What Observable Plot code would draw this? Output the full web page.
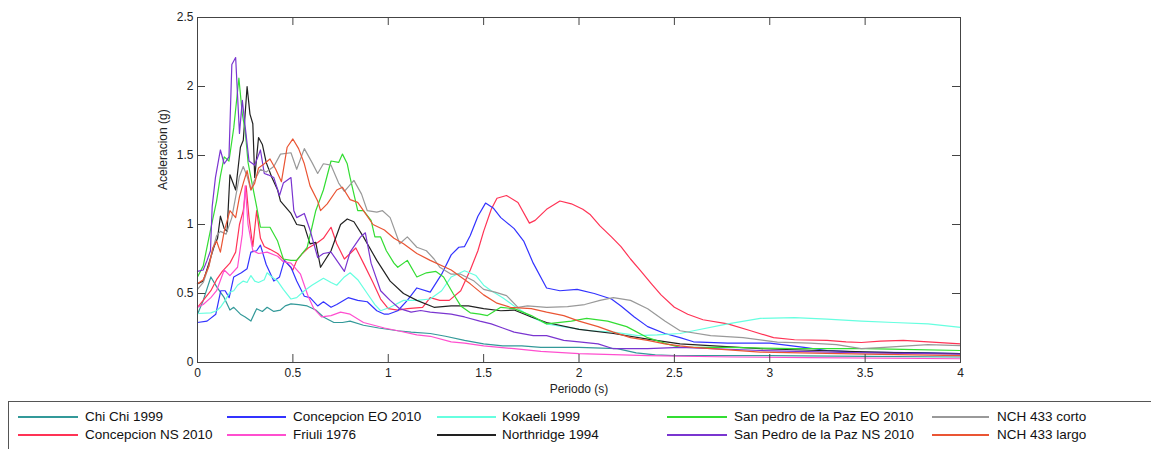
<!DOCTYPE html>
<html>
<head>
<meta charset="utf-8">
<script src="https://cdn.jsdelivr.net/npm/d3@7"></script>
<script src="https://cdn.jsdelivr.net/npm/@observablehq/plot@0.6"></script>
<style>
  html, body { margin: 0; padding: 0; background: #fff; overflow: hidden; }
  body { width: 1151px; height: 449px; position: relative; font-family: "Liberation Sans", Arial, sans-serif; }
  #chart { position: absolute; left: 0; top: 0; }
  #legendBox { position: absolute; left: 8px; top: 401px; width: 1170px; height: 80px; border: 1px solid #555; box-sizing: border-box; }
  .sw { position: absolute; height: 2px; }
  .lt { position: absolute; font-size: 13.5px; line-height: 18px; color: #111; white-space: nowrap; }
</style>
</head>
<body>
<div id="chart"></div>
<div id="legendBox"></div>
<script>
// Response spectra: period T (s) against spectral acceleration Sa (g)
const xTicks = [0, 0.5, 1, 1.5, 2, 2.5, 3, 3.5, 4];
const yTicks = [0, 0.5, 1, 1.5, 2, 2.5];
const xLabel = "Periodo (s)";
const yLabel = "Aceleracion (g)";

const chiChi = [[0,0.35],[0.03,0.45],[0.07,0.62],[0.10,0.55],[0.14,0.47],[0.17,0.38],[0.19,0.40],[0.225,0.35],[0.25,0.33],[0.28,0.30],[0.31,0.39],[0.34,0.37],[0.365,0.40],[0.40,0.37],[0.435,0.38],[0.46,0.41],[0.49,0.425],[0.53,0.42],[0.575,0.41],[0.62,0.38],[0.66,0.33],[0.715,0.29],[0.76,0.29],[0.80,0.30],[0.87,0.27],[0.95,0.25],[1.05,0.23],[1.12,0.22],[1.22,0.21],[1.30,0.19],[1.40,0.16],[1.50,0.135],[1.60,0.12],[1.70,0.12],[1.80,0.11],[2.00,0.11],[2.20,0.10],[2.30,0.07],[2.40,0.055],[2.50,0.05],[3.00,0.05],[3.50,0.045],[4.00,0.04]];

const concepcionNS = [[0,0.40],[0.03,0.45],[0.07,0.52],[0.10,0.60],[0.13,0.66],[0.17,0.72],[0.20,0.80],[0.22,1.00],[0.24,1.10],[0.255,1.28],[0.27,1.05],[0.29,0.84],[0.31,1.10],[0.33,0.90],[0.35,0.84],[0.38,0.82],[0.42,0.79],[0.47,0.72],[0.50,0.67],[0.52,0.74],[0.55,0.79],[0.58,0.83],[0.63,0.87],[0.66,0.90],[0.70,0.98],[0.73,0.86],[0.77,0.75],[0.80,0.79],[0.83,0.83],[0.87,0.72],[0.92,0.58],[0.96,0.46],[1.00,0.39],[1.05,0.38],[1.10,0.39],[1.18,0.40],[1.22,0.47],[1.27,0.45],[1.32,0.45],[1.38,0.52],[1.43,0.67],[1.47,0.81],[1.50,0.95],[1.54,1.11],[1.57,1.19],[1.62,1.21],[1.68,1.16],[1.74,1.01],[1.77,1.03],[1.83,1.11],[1.90,1.17],[1.96,1.15],[2.02,1.11],[2.06,1.07],[2.11,0.99],[2.17,0.91],[2.22,0.84],[2.27,0.75],[2.32,0.67],[2.38,0.57],[2.43,0.49],[2.50,0.40],[2.57,0.35],[2.65,0.31],[2.78,0.28],[2.90,0.23],[3.02,0.18],[3.13,0.165],[3.30,0.16],[3.40,0.15],[3.48,0.145],[3.58,0.155],[3.70,0.16],[3.83,0.15],[4.00,0.135]];

const concepcionEO = [[0,0.29],[0.05,0.30],[0.096,0.35],[0.122,0.52],[0.145,0.52],[0.166,0.47],[0.19,0.62],[0.23,0.65],[0.26,0.68],[0.28,0.80],[0.31,0.81],[0.33,0.85],[0.36,0.71],[0.40,0.59],[0.43,0.62],[0.455,0.74],[0.49,0.69],[0.52,0.59],[0.56,0.48],[0.59,0.47],[0.63,0.41],[0.66,0.44],[0.70,0.40],[0.73,0.42],[0.79,0.47],[0.84,0.45],[0.89,0.44],[0.94,0.375],[0.98,0.35],[1.00,0.35],[1.05,0.375],[1.10,0.45],[1.15,0.54],[1.22,0.51],[1.28,0.64],[1.33,0.78],[1.37,0.835],[1.40,0.84],[1.43,0.92],[1.47,1.06],[1.51,1.155],[1.55,1.12],[1.59,1.05],[1.66,0.97],[1.71,0.88],[1.76,0.72],[1.83,0.54],[1.90,0.52],[1.99,0.53],[2.08,0.50],[2.17,0.46],[2.22,0.41],[2.29,0.33],[2.36,0.26],[2.45,0.21],[2.53,0.18],[2.60,0.15],[2.78,0.14],[3.00,0.14],[3.18,0.11],[3.30,0.087],[3.48,0.075],[3.83,0.07],[4.00,0.065]];

const friuli = [[0,0.40],[0.03,0.42],[0.07,0.47],[0.10,0.52],[0.14,0.67],[0.17,0.63],[0.21,0.69],[0.235,0.93],[0.25,1.28],[0.265,1.00],[0.29,0.81],[0.32,0.79],[0.365,0.80],[0.42,0.77],[0.45,0.73],[0.49,0.72],[0.54,0.64],[0.58,0.48],[0.61,0.39],[0.65,0.33],[0.70,0.34],[0.75,0.365],[0.80,0.35],[0.87,0.29],[0.98,0.25],[1.05,0.23],[1.15,0.20],[1.22,0.19],[1.33,0.15],[1.40,0.14],[1.50,0.12],[1.66,0.10],[1.80,0.08],[2.00,0.065],[2.36,0.05],[2.80,0.04],[3.20,0.035],[4.00,0.027]];

const kokaeli = [[0,0.355],[0.07,0.36],[0.10,0.375],[0.12,0.40],[0.145,0.45],[0.17,0.51],[0.19,0.52],[0.21,0.56],[0.24,0.59],[0.26,0.58],[0.28,0.63],[0.30,0.59],[0.32,0.58],[0.35,0.60],[0.365,0.65],[0.39,0.62],[0.42,0.59],[0.45,0.53],[0.49,0.46],[0.52,0.47],[0.56,0.52],[0.60,0.56],[0.66,0.61],[0.70,0.58],[0.73,0.56],[0.77,0.62],[0.80,0.65],[0.84,0.60],[0.89,0.50],[0.93,0.42],[0.96,0.375],[1.01,0.40],[1.08,0.45],[1.15,0.45],[1.22,0.46],[1.28,0.52],[1.33,0.62],[1.40,0.665],[1.46,0.63],[1.50,0.56],[1.54,0.52],[1.60,0.47],[1.66,0.41],[1.75,0.33],[1.83,0.28],[1.94,0.255],[2.06,0.23],[2.18,0.22],[2.31,0.195],[2.41,0.20],[2.53,0.21],[2.60,0.23],[2.78,0.28],[2.95,0.32],[3.13,0.325],[3.30,0.315],[3.48,0.30],[3.65,0.29],[3.83,0.28],[4.00,0.255]];

const northridge = [[0,0.57],[0.03,0.59],[0.06,0.72],[0.087,0.84],[0.105,0.90],[0.12,1.06],[0.14,0.97],[0.155,0.95],[0.17,1.36],[0.20,1.25],[0.225,1.56],[0.24,1.61],[0.26,2.00],[0.275,1.80],[0.29,1.73],[0.30,1.34],[0.32,1.63],[0.34,1.58],[0.36,1.45],[0.39,1.34],[0.42,1.25],[0.435,1.17],[0.49,1.08],[0.52,1.00],[0.56,0.99],[0.59,0.86],[0.62,0.87],[0.645,0.69],[0.70,0.81],[0.75,1.00],[0.785,1.04],[0.82,1.02],[0.87,0.91],[0.94,0.74],[1.01,0.59],[1.08,0.50],[1.15,0.45],[1.24,0.40],[1.33,0.41],[1.42,0.41],[1.50,0.39],[1.59,0.375],[1.66,0.38],[1.75,0.33],[1.83,0.29],[2.00,0.24],[2.18,0.21],[2.36,0.17],[2.53,0.135],[2.95,0.10],[3.30,0.085],[3.70,0.07],[4.00,0.065]];

const sanPedroEO = [[0,0.62],[0.03,0.70],[0.068,0.96],[0.10,1.17],[0.12,1.35],[0.14,1.49],[0.165,1.46],[0.19,1.70],[0.217,2.06],[0.235,1.80],[0.25,1.68],[0.265,1.45],[0.28,1.34],[0.31,1.13],[0.33,0.98],[0.38,0.98],[0.42,0.88],[0.45,0.75],[0.49,0.74],[0.52,0.74],[0.575,0.835],[0.60,0.98],[0.62,1.10],[0.66,1.25],[0.70,1.46],[0.74,1.45],[0.76,1.51],[0.785,1.44],[0.80,1.34],[0.84,1.10],[0.87,1.10],[0.91,1.03],[0.93,0.91],[0.96,0.91],[0.99,0.81],[1.03,0.72],[1.05,0.69],[1.10,0.74],[1.15,0.62],[1.20,0.65],[1.25,0.66],[1.29,0.62],[1.34,0.50],[1.38,0.41],[1.43,0.36],[1.48,0.35],[1.52,0.34],[1.59,0.40],[1.66,0.39],[1.75,0.34],[1.83,0.28],[1.96,0.30],[2.04,0.32],[2.15,0.30],[2.25,0.26],[2.36,0.18],[2.46,0.135],[2.53,0.11],[2.78,0.11],[3.13,0.10],[3.50,0.10],[3.70,0.095],[4.00,0.087]];

const sanPedroNS = [[0,0.66],[0.03,0.67],[0.05,0.74],[0.068,0.81],[0.077,1.13],[0.094,1.34],[0.12,1.54],[0.14,1.44],[0.165,1.49],[0.18,2.16],[0.20,2.21],[0.22,1.66],[0.235,1.90],[0.25,1.71],[0.27,1.46],[0.30,1.43],[0.33,1.54],[0.35,1.37],[0.37,1.36],[0.40,1.34],[0.43,1.21],[0.45,1.30],[0.49,1.34],[0.505,1.10],[0.52,1.05],[0.56,1.08],[0.59,0.96],[0.63,0.76],[0.66,0.79],[0.70,0.80],[0.74,0.72],[0.77,0.66],[0.80,0.80],[0.855,0.91],[0.88,0.94],[0.91,0.72],[0.96,0.52],[1.01,0.45],[1.06,0.39],[1.12,0.365],[1.17,0.377],[1.22,0.365],[1.33,0.35],[1.40,0.33],[1.48,0.30],[1.54,0.28],[1.60,0.25],[1.66,0.22],[1.76,0.195],[1.83,0.195],[1.92,0.16],[2.00,0.15],[2.10,0.135],[2.18,0.10],[2.36,0.10],[2.53,0.11],[2.95,0.087],[3.50,0.07],[4.00,0.06]];

const nchCorto = [[0,0.53],[0.03,0.58],[0.06,0.70],[0.08,0.82],[0.10,0.92],[0.12,0.95],[0.15,0.93],[0.18,1.05],[0.20,1.20],[0.22,1.35],[0.24,1.42],[0.26,1.35],[0.28,1.25],[0.295,1.31],[0.33,1.40],[0.36,1.38],[0.40,1.42],[0.435,1.51],[0.49,1.52],[0.52,1.40],[0.56,1.55],[0.60,1.45],[0.63,1.37],[0.66,1.44],[0.70,1.43],[0.74,1.30],[0.77,1.24],[0.82,1.32],[0.86,1.22],[0.89,1.10],[0.94,1.09],[0.97,1.10],[1.01,1.05],[1.06,0.86],[1.10,0.91],[1.15,0.835],[1.20,0.81],[1.24,0.75],[1.27,0.69],[1.33,0.64],[1.38,0.64],[1.45,0.59],[1.50,0.53],[1.56,0.51],[1.62,0.485],[1.68,0.40],[1.73,0.41],[1.83,0.40],[1.94,0.405],[2.03,0.42],[2.11,0.45],[2.18,0.47],[2.27,0.45],[2.36,0.39],[2.45,0.30],[2.53,0.23],[2.69,0.195],[2.86,0.18],[3.04,0.147],[3.21,0.14],[3.35,0.13],[3.48,0.10],[3.60,0.11],[3.83,0.13],[4.00,0.123]];

const nchLargo = [[0,0.57],[0.03,0.60],[0.06,0.70],[0.08,0.83],[0.10,0.88],[0.12,0.80],[0.14,0.95],[0.17,1.10],[0.20,1.05],[0.22,1.20],[0.24,1.30],[0.26,1.39],[0.28,1.25],[0.30,1.30],[0.32,1.41],[0.35,1.44],[0.38,1.475],[0.41,1.40],[0.44,1.31],[0.47,1.56],[0.50,1.62],[0.53,1.55],[0.56,1.44],[0.59,1.28],[0.63,1.17],[0.645,1.10],[0.68,1.15],[0.73,1.25],[0.76,1.27],[0.80,1.18],[0.84,1.16],[0.87,1.10],[0.92,1.00],[0.98,0.96],[1.03,0.90],[1.08,0.86],[1.15,0.79],[1.22,0.74],[1.33,0.67],[1.43,0.57],[1.50,0.49],[1.57,0.43],[1.64,0.40],[1.75,0.39],[1.83,0.365],[1.92,0.34],[2.00,0.30],[2.10,0.26],[2.18,0.22],[2.27,0.18],[2.36,0.16],[2.45,0.135],[2.53,0.12],[2.60,0.11],[2.95,0.075],[3.50,0.06],[4.00,0.05]];

// Series in drawing order (later ones on top); legend fills column by column
const seriesNames = ["Chi Chi 1999", "Concepcion NS 2010", "Concepcion EO 2010", "Friuli 1976", "Kokaeli 1999", "Northridge 1994", "San pedro de la Paz EO 2010", "San Pedro de la Paz NS 2010", "NCH 433 corto", "NCH 433 largo"];
const seriesData = [chiChi, concepcionNS, concepcionEO, friuli, kokaeli, northridge, sanPedroEO, sanPedroNS, nchCorto, nchLargo];
const seriesColors = ["#339999", "#ff3355", "#3333ff", "#ff4fcf", "#66ffe0", "#222222", "#33dd33", "#7a35d0", "#999999", "#ea5534"];

const rows = seriesData.flatMap((pts, i) => pts.map(([T, Sa]) => ({name: seriesNames[i], T, Sa})));

const W = 1151, H = 400;
const mL = 197, mR = 191, mT = 17, mB = 38;
const frameW = W - mL - mR, frameH = H - mT - mB;
const tickLen = 8;
const axisColor = "#444";

const chart = Plot.plot({
  width: W,
  height: H,
  marginLeft: mL,
  marginRight: mR,
  marginTop: mT,
  marginBottom: mB,
  style: {fontFamily: "'Liberation Sans', Arial, sans-serif", fontSize: "12px", color: "#222", background: "#fff"},
  x: {domain: [0, 4], ticks: xTicks, tickSize: 0, tickPadding: 6, tickFormat: d => String(d), label: null},
  y: {domain: [0, 2.5], ticks: yTicks, tickSize: 0, tickPadding: 4, tickFormat: d => String(d), label: null},
  color: {domain: seriesNames, range: seriesColors},
  marks: [
    Plot.line(rows, {x: "T", y: "Sa", z: "name", stroke: "name", strokeWidth: 1.2, strokeLinejoin: "round"}),
    Plot.frame({stroke: axisColor, strokeWidth: 1}),
    // inward tick marks on all four sides
    Plot.tickX(xTicks, {x: d => d, stroke: axisColor, insetTop: frameH - tickLen}),
    Plot.tickX(xTicks, {x: d => d, stroke: axisColor, insetBottom: frameH - tickLen}),
    Plot.tickY(yTicks, {y: d => d, stroke: axisColor, insetRight: frameW - tickLen}),
    Plot.tickY(yTicks, {y: d => d, stroke: axisColor, insetLeft: frameW - tickLen}),
    Plot.text([xLabel], {text: d => d, frameAnchor: "bottom", dy: 30, fill: "#222"}),
    Plot.text([yLabel], {text: d => d, frameAnchor: "left", dx: -34, rotate: -90, fill: "#222"})
  ]
});
document.getElementById("chart").appendChild(chart);

// Legend below the axes: two rows, five columns
const colSwatchX = [18, 227, 437, 667, 932];
const colSwatchW = [60, 59, 59, 60, 57];
const colTextX = [85, 293, 502, 734, 997];
const rowY = [417, 435];
seriesNames.forEach((name, i) => {
  const c = Math.floor(i / 2), r = i % 2;
  const sw = document.createElement("div");
  sw.className = "sw";
  sw.style.left = colSwatchX[c] + "px";
  sw.style.width = colSwatchW[c] + "px";
  sw.style.top = (rowY[r] - 1) + "px";
  sw.style.background = seriesColors[i];
  document.body.appendChild(sw);
  const t = document.createElement("div");
  t.className = "lt";
  t.style.left = colTextX[c] + "px";
  t.style.top = (rowY[r] - 9) + "px";
  t.textContent = name;
  document.body.appendChild(t);
});
</script>
</body>
</html>
